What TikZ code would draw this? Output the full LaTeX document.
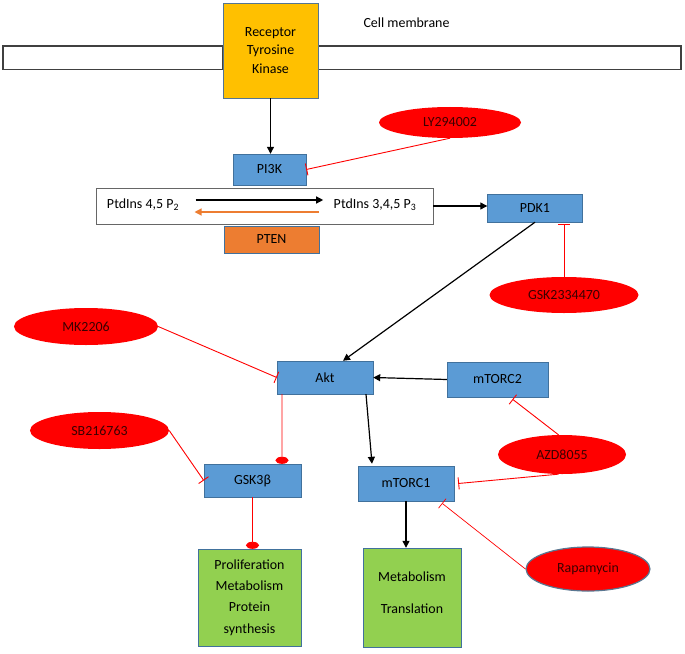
\documentclass[tikz,border=0pt]{standalone}
\usepackage{fontspec}
\setmainfont{Carlito}
\usepackage{tikz}
\usetikzlibrary{arrows.meta}
\usetikzlibrary{shapes}

\definecolor{protblue}{HTML}{5B9BD5}
\definecolor{edgeblue}{HTML}{41719C}
\definecolor{rtkyellow}{HTML}{FFC000}
\definecolor{ptenorange}{HTML}{ED7D31}
\definecolor{outgreen}{HTML}{92D050}
\definecolor{drugtext}{HTML}{3A0000}
\definecolor{membgray}{HTML}{404040}

\tikzset{
  prot/.style={draw=edgeblue, fill=protblue, inner sep=0pt},
  drug/.style={ellipse, fill=red, text=drugtext, inner sep=0pt},
  act/.style={line width=1.2bp, -{Triangle[length=7bp,width=7bp]}},
  inhib/.style={red, line width=0.9bp, -{Bar[width=12bp]}},
  dot/.style={red, line width=0.9bp, -{Ellipse[length=7bp,width=13bp]}}
}

\begin{document}
\begin{tikzpicture}[x=1bp, y=-1bp, font=\fontsize{14}{18.5}\selectfont]
        \useasboundingbox (0, 0) rectangle (685, 654);
        \draw[membgray, line width=1.6bp] (3, 46) rectangle (223, 69.5);
        \draw[membgray, line width=1.6bp] (318, 46) rectangle (681, 69.5);
        \node at (406.5, 23) {Cell membrane};
        \node[prot, fill=rtkyellow, draw=edgeblue!70!gray, minimum width=95bp, minimum height=95bp, align=center] (rtk) at (270.5, 50.5) {Receptor\\Tyrosine\\Kinase};
        \node[prot, minimum width=73bp, minimum height=31bp] (pik) at (269.5, 169.5) {PI3K};
        \node[draw=gray!80!black, line width=0.8bp, minimum width=337bp, minimum height=36bp] (ptd) at (264.5, 206) {};
        \node (p2) at (143, 205) {PtdIns 4,5 P\textsubscript{2}};
        \node (p3) at (375, 205) {PtdIns 3,4,5 P\textsubscript{3}};
        \node[prot, fill=ptenorange, minimum width=95bp, minimum height=27bp] (pten) at (271.5, 239.5) {PTEN};
        \node[prot, minimum width=95bp, minimum height=28bp] (pdk) at (535, 208) {PDK1};
        \node[drug, minimum width=142bp, minimum height=31bp] (ly) at (450, 122.5) {LY294002};
        \node[drug, minimum width=149bp, minimum height=36bp] (gskin) at (564, 295) {GSK2334470};
        \node[prot, minimum width=96bp, minimum height=33bp] (akt) at (325, 377.5) {Akt};
        \node[drug, minimum width=144bp, minimum height=37bp] (mk) at (86, 326.5) {MK2206};
        \node[prot, minimum width=101bp, minimum height=35bp] (mtorctwo) at (497.5, 379.5) {mTORC2};
        \node[drug, minimum width=128bp, minimum height=39bp] (azd) at (562, 454.5) {AZD8055};
        \node[drug, minimum width=139bp, minimum height=37bp] (sb) at (99.5, 430.5) {SB216763};
        \node[prot, minimum width=97bp, minimum height=33bp] (gsk) at (252.5, 480.5) {GSK3β};
        \node[prot, minimum width=96bp, minimum height=35bp] (mtorcone) at (406, 483.5) {mTORC1};
        \node[drug, draw=edgeblue!60!gray, line width=1.2bp, minimum width=124bp, minimum height=44bp] (rapa) at (588, 569) {Rapamycin};
        \node[prot, fill=outgreen, minimum width=103bp, minimum height=97bp, align=center, font=\fontsize{14}{21.3}\selectfont] (prolif) at (249.5, 597.5) {Proliferation\\Metabolism\\Protein\\synthesis};
        \node[prot, fill=outgreen, minimum width=98bp, minimum height=99bp, align=center, font=\fontsize{14}{32}\selectfont, text depth=10bp] (meta) at (412, 597.5) {Metabolism\\Translation};
        \draw[act] (rtk.south) -- (rtk.south |- pik.north);
        \draw[inhib] (ly.south) -- (pik.east);
        \draw[act] ([shift={(13,-5)}]p2.east) -- ([shift={(-7,-5)}]p3.west);
        \draw[act, ptenorange] ([shift={(-11,7)}]p3.west) -- ([shift={(12,7)}]p2.east);
        \draw[act] (ptd.east) -- (ptd.east -| pdk.west);
        \draw[inhib, line width=0.7bp] (gskin.north) -- ([yshift=-2bp]gskin.north |- pdk.south);
        \draw[act] (pdk.south) -- ([xshift=18bp]akt.north);
        \draw[inhib] (mk.east) -- (akt.west);
        \draw[act] (mtorctwo.west) -- (akt.east);
        \draw[act] ([xshift=41bp]akt.south) -- ([xshift=-34bp, yshift=2bp]mtorcone.north);
        \draw[dot] ([xshift=-43bp]akt.south) -- ([xshift=29.5bp]gsk.north);
        \draw[inhib] (sb.east) -- (gsk.west);
        \draw[inhib] (azd.100) -- ([shift={(15,2)}]mtorctwo.south);
        \draw[inhib] (azd.260) -- ([xshift=4bp]mtorcone.east);
        \draw[inhib, line width=0.7bp] (rapa.west) -- ([shift={(36,2)}]mtorcone.south);
        \draw[act] (mtorcone.south) -- (mtorcone.south |- meta.north);
        \draw[dot] (gsk.south) -- (gsk.south |- prolif.north);
      \end{tikzpicture}
\end{document}
